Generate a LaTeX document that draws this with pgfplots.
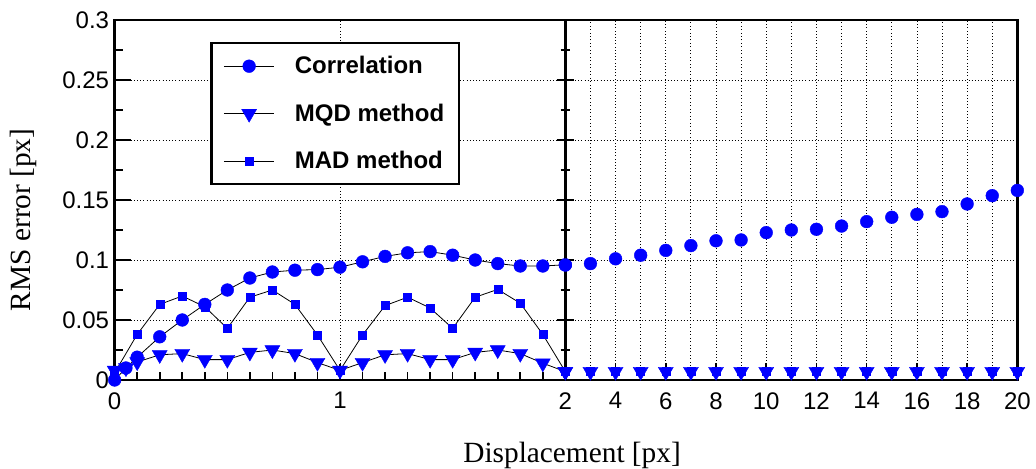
\documentclass[border=0pt]{standalone}
\usepackage{fontspec}
\setmainfont{Liberation Sans}
\newfontfamily\timesfont{Liberation Serif}
\usepackage{pgfplots}
\pgfplotsset{compat=1.18}

\pgfplotsset{
  every axis/.append style={line width=1.8pt},
  rmsaxis/.style={
    scale only axis, height=270pt,
    ymin=0, ymax=0.3,
    ytick={0,0.05,0.1,0.15,0.2,0.25,0.3}, minor y tick num=1,
    ymajorgrids,
    grid style={dotted, black, line width=0.6pt},
    axis line style={line width=1.8pt},
    tick style={black, line width=1.2pt},
    major tick length=12pt, minor tick length=6pt,
    tick label style={font=\fontsize{18}{20}\selectfont},
    xticklabel style={yshift=-5pt},
    /pgf/number format/assume math mode=true,
    clip=false,
  },
  circ/.style={black, line width=0.6pt, mark=*, mark size=4.8pt,
    mark options={blue, fill=blue, line width=0.3pt}},
  tri/.style={black, line width=0.6pt, mark=triangle*, mark size=6.5pt,
    mark options={blue, fill=blue, rotate=180, line width=0.3pt}},
  sq/.style={black, line width=0.6pt, mark=square*, mark size=3pt,
    mark options={blue, fill=blue, line width=0.3pt}},
}

\begin{document}
\begin{tikzpicture}
\begin{axis}[
    rmsaxis, name=left, width=338pt,
    xmin=0, xmax=2,
    xtick={0,1,2}, xticklabels={0,1,{}},
    minor x tick num=9,
    xmajorgrids,
    ytick pos=left, xtick pos=bottom, tick align=inside,
    scaled y ticks=false,
    yticklabel style={/pgf/number format/fixed, /pgf/number format/precision=2},
    xlabel={Displacement [px]},
    ylabel={RMS error [px]},
    xlabel style={font=\timesfont\fontsize{22}{24}\selectfont,
      at={(axis description cs:1.015,-0.17)}, anchor=north, inner sep=0pt},
    ylabel style={font=\timesfont\fontsize{22}{24}\selectfont,
      at={(axis description cs:-0.235,0.445)}, anchor=north, inner sep=0pt},
    reverse legend,
    legend cell align=left,
    legend image code/.code={\draw[mark repeat=2,mark phase=2,#1]
      plot coordinates {(0pt,0pt) (19pt,0pt) (38pt,0pt)};},
    legend style={at={(axis description cs:0.212,0.939)}, anchor=north west,
      draw=black, line width=1.8pt, fill=white,
      font=\bfseries\fontsize{18}{21}\selectfont,
      inner xsep=9pt, inner ysep=8pt, row sep=17pt, column sep=13pt},
]
% MAD method
\addplot[sq] coordinates {
  (0,0.006) (0.1,0.038) (0.2,0.063) (0.3,0.07) (0.4,0.061) (0.5,0.043)
  (0.6,0.069) (0.7,0.075) (0.8,0.063) (0.9,0.0375) (1.0,0.008)
  (1.1,0.0375) (1.2,0.062) (1.3,0.069) (1.4,0.06) (1.5,0.043)
  (1.6,0.069) (1.7,0.0755) (1.8,0.064) (1.9,0.038) (2.0,0.007)
};
\addlegendentry{MAD method}
% MQD method
\addplot[tri] coordinates {
  (0,0.008) (0.05,0.01) (0.1,0.015) (0.2,0.021) (0.3,0.022) (0.4,0.017)
  (0.5,0.017) (0.6,0.023) (0.7,0.025) (0.8,0.022) (0.9,0.0145) (1.0,0.008)
  (1.1,0.0145) (1.2,0.021) (1.3,0.022) (1.4,0.017) (1.5,0.017)
  (1.6,0.023) (1.7,0.025) (1.8,0.022) (1.9,0.014) (2.0,0.007)
};
\addlegendentry{MQD method\hspace{7pt}}
% Correlation
\addplot[circ] coordinates {
  (0,0) (0.05,0.01) (0.1,0.019) (0.2,0.036) (0.3,0.05) (0.4,0.063)
  (0.5,0.075) (0.6,0.085) (0.7,0.09) (0.8,0.0915) (0.9,0.092) (1.0,0.094)
  (1.1,0.0985) (1.2,0.103) (1.3,0.106) (1.4,0.107) (1.5,0.104)
  (1.6,0.1) (1.7,0.097) (1.8,0.095) (1.9,0.095) (2.0,0.096)
};
\addlegendentry{Correlation}
\end{axis}

\begin{axis}[
    rmsaxis, name=rt, at={(left.south east)}, anchor=south west, width=339pt,
    xmin=2, xmax=20,
    xtick={2,4,...,20}, minor x tick num=1,
    xmajorgrids, xminorgrids,
    minor grid style={dotted, black, line width=0.6pt},
    yticklabels={},
    ytick pos=left, xtick pos=bottom,
    ytick align=center, xtick align=inside,
    major tick length=13pt, minor tick length=7pt,
]
\addplot[sq, only marks] coordinates {
  (2,0.007) (3,0.007) (4,0.007) (5,0.007) (6,0.007) (7,0.007) (8,0.007)
  (9,0.007) (10,0.007) (11,0.007) (12,0.007) (13,0.007) (14,0.007)
  (15,0.007) (16,0.007) (17,0.007) (18,0.007) (19,0.007) (20,0.007)
};
\addplot[tri, only marks] coordinates {
  (2,0.007) (3,0.007) (4,0.007) (5,0.007) (6,0.007) (7,0.007) (8,0.007)
  (9,0.007) (10,0.007) (11,0.007) (12,0.007) (13,0.007) (14,0.007)
  (15,0.007) (16,0.007) (17,0.007) (18,0.007) (19,0.007) (20,0.007)
};
\addplot[circ, only marks] coordinates {
  (2,0.0958) (3,0.097) (4,0.101) (5,0.104) (6,0.108) (7,0.112) (8,0.116)
  (9,0.1167) (10,0.1228) (11,0.125) (12,0.1256) (13,0.1283) (14,0.132)
  (15,0.1356) (16,0.138) (17,0.1403) (18,0.1467) (19,0.1536) (20,0.158)
};
\end{axis}
\path ([yshift=15pt,xshift=-86pt]left.north west) ([xshift=14pt]rt.north east);
\end{tikzpicture}
\end{document}
